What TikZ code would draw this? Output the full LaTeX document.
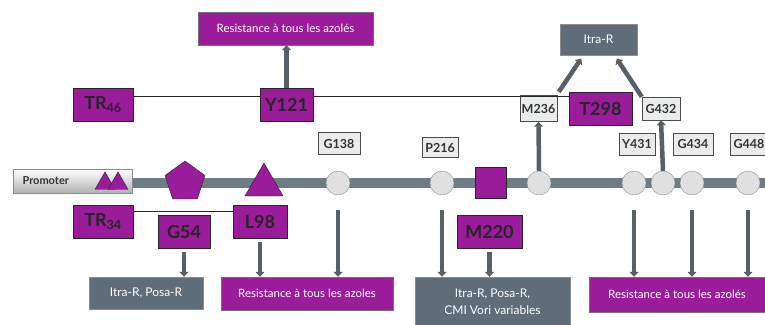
\documentclass[tikz,border=0pt]{standalone}
\usepackage{fontspec}
\setmainfont{Lato}
\usepackage{tikz}
\usetikzlibrary{arrows.meta,positioning,shapes.geometric,calc}
\definecolor{mutpurple}{RGB}{154,28,154}
\definecolor{slate}{RGB}{94,109,119}
\definecolor{arrgray}{RGB}{86,96,102}
\definecolor{lblgray}{RGB}{234,236,236}
\definecolor{bbgray}{RGB}{110,124,132}

\begin{document}
\begin{tikzpicture}[x=1pt,y=-1pt,
  mut/.style={draw=black!85,fill=mutpurple,text=black!85,inner sep=0pt,
              font=\bfseries\fontsize{18}{18}\selectfont,minimum height=33pt},
  res/.style={draw=black!55,fill=mutpurple,text=white,inner sep=0pt,
              font=\fontsize{11.5}{12}\selectfont,minimum height=33pt},
  eff/.style={draw=black!45,fill=slate,text=white,inner sep=0pt,align=center,
              font=\fontsize{12}{17}\selectfont,minimum height=32pt},
  lbl/.style={draw=black!70,fill=lblgray,text=black!80,inner sep=0pt,
              font=\bfseries\fontsize{12.5}{12.5}\selectfont,minimum height=22pt},
  site/.style={circle,draw=black!45,fill=black!12,minimum size=24pt,inner sep=0pt},
  pshape/.style={regular polygon,draw=black!85,fill=mutpurple,inner sep=0pt},
  arr/.style={-{Triangle[length=5pt,width=9pt]},line width=4.5pt,draw=arrgray},
  link/.style={line width=1pt,black!85}]
\useasboundingbox (0,0) rectangle (765,324);
\node[res,minimum width=175pt] (resTop) at (285.5,28.5) {Resistance à tous les azolés};
\node[eff,minimum width=77pt,minimum height=31pt] (itraTop) at (598.5,39.5) {Itra-R};
\node[mut,minimum width=60pt] (tr46) at (103,104.5) {TR\textsubscript{46}};
\node[mut,minimum width=53pt] (y121) at (286.5,104.5) {Y121};
\node[mut,minimum width=63pt] (t298) at (600.5,108.5) {T298};
\node[lbl,minimum width=37pt,minimum height=26pt] (m236) at (538.5,108.5) {M236};
\node[lbl,minimum width=38pt,minimum height=23pt] (g432) at (661,108.5) {G432};
\node[lbl,minimum width=42pt] (g138) at (339,143.5) {G138};
\node[lbl,minimum width=36pt,minimum height=20pt] (p216) at (440,147.5) {P216};
\node[lbl,minimum width=36pt] (y431) at (637,144) {Y431};
\node[lbl,minimum width=40pt] (g434) at (693,144) {G434};
\node[lbl,minimum width=38pt] (g448) at (749,144) {G448};
\draw[bbgray,line width=10pt] (132,183) -- (765,183);
\node[draw=black!45,top color=white,bottom color=black!30,minimum width=119pt,
  minimum height=24pt,inner sep=0pt] (promoter) at (72.5,181) {};
\node[font=\bfseries\fontsize{11}{11}\selectfont,text=black!80,anchor=west]
  (promtext) at (19,181) {Promoter};
\node[pshape,regular polygon sides=3,minimum size=23pt] (tata1) at (105,183.5) {};
\node[pshape,regular polygon sides=3,minimum size=23pt] (tata2) at (118,183.5) {};
\node[pshape,regular polygon sides=5,minimum size=42pt] (penta) at (185,182) {};
\node[pshape,regular polygon sides=3,minimum size=44pt] (trian) at (264,185) {};
\node[site] (g138c) at (338,183) {};
\node[site] (p216c) at (442,183) {};
\node[draw=black!85,fill=mutpurple,minimum size=31pt,inner sep=0pt] (m220sq) at (490.5,182.5) {};
\node[site] (m236c) at (539,183) {};
\node[site] (y431c) at (634,183) {};
\node[site] (g432c) at (663,183) {};
\node[site] (g434c) at (692,183) {};
\node[site] (g448c) at (748,183) {};
\node[mut,minimum width=60pt] (tr34) at (103,221.5) {TR\textsubscript{34}};
\node[mut,minimum width=52pt] (g54) at (184,231.5) {G54};
\node[mut,minimum width=54pt] (l98) at (260,221.5) {L98};
\node[mut,minimum width=65pt] (m220) at (489.5,231.5) {M220};
\node[eff,minimum width=114pt] (itraPosa) at (146,293) {Itra-R, Posa-R};
\node[res,minimum width=172pt] (resLeft) at (307,293.5) {Resistance à tous les azoles};
\node[eff,minimum width=155pt,minimum height=50pt] (cmiVori) at (492.5,302)
  {Itra-R, Posa-R,\\ CMI Vori variables};
\node[res,minimum width=176pt,minimum height=35pt] (resRight) at (677,294.5)
  {Resistance à tous les azolés};
\draw[link] ([yshift=8pt]tr46.east) -- ([yshift=8pt]y121.west);
\draw[link] ([yshift=8pt]y121.east) -- ([yshift=12pt]t298.west);
\draw[link] ([yshift=10pt]tr34.east) -- ([yshift=10pt]l98.west);
\draw[arr] (y121.north) -- (y121.north |- resTop.south);
\draw[arr,shorten >=4pt] ([xshift=-10pt]t298.north west) -- ([xshift=-15pt]itraTop.south);
\draw[arr,shorten >=4pt] (g432.north west) -- ([xshift=16pt]itraTop.south);
\draw[arr] (m236c.north) -- (m236.south);
\draw[arr] (g432c.north) -- (g432.south);
\draw[arr,shorten <=4pt] (g54.south) -- (g54.south |- itraPosa.north);
\draw[arr,shorten <=4pt] (l98.south) -- (l98.south |- resLeft.north);
\draw[arr,shorten <=15pt] (g138c.south) -- (g138c.south |- resLeft.north);
\draw[arr,shorten <=15pt] (p216c.south) -- (p216c.south |- cmiVori.north);
\draw[arr,shorten <=4pt] (m220.south) -- (m220.south |- cmiVori.north);
\draw[arr,shorten <=15pt] (y431c.south) -- (y431c.south |- resRight.north);
\draw[arr,shorten <=15pt] (g434c.south) -- (g434c.south |- resRight.north);
\draw[arr,shorten <=15pt] (g448c.south) -- (g448c.south |- resRight.north);
\end{tikzpicture}
\end{document}
